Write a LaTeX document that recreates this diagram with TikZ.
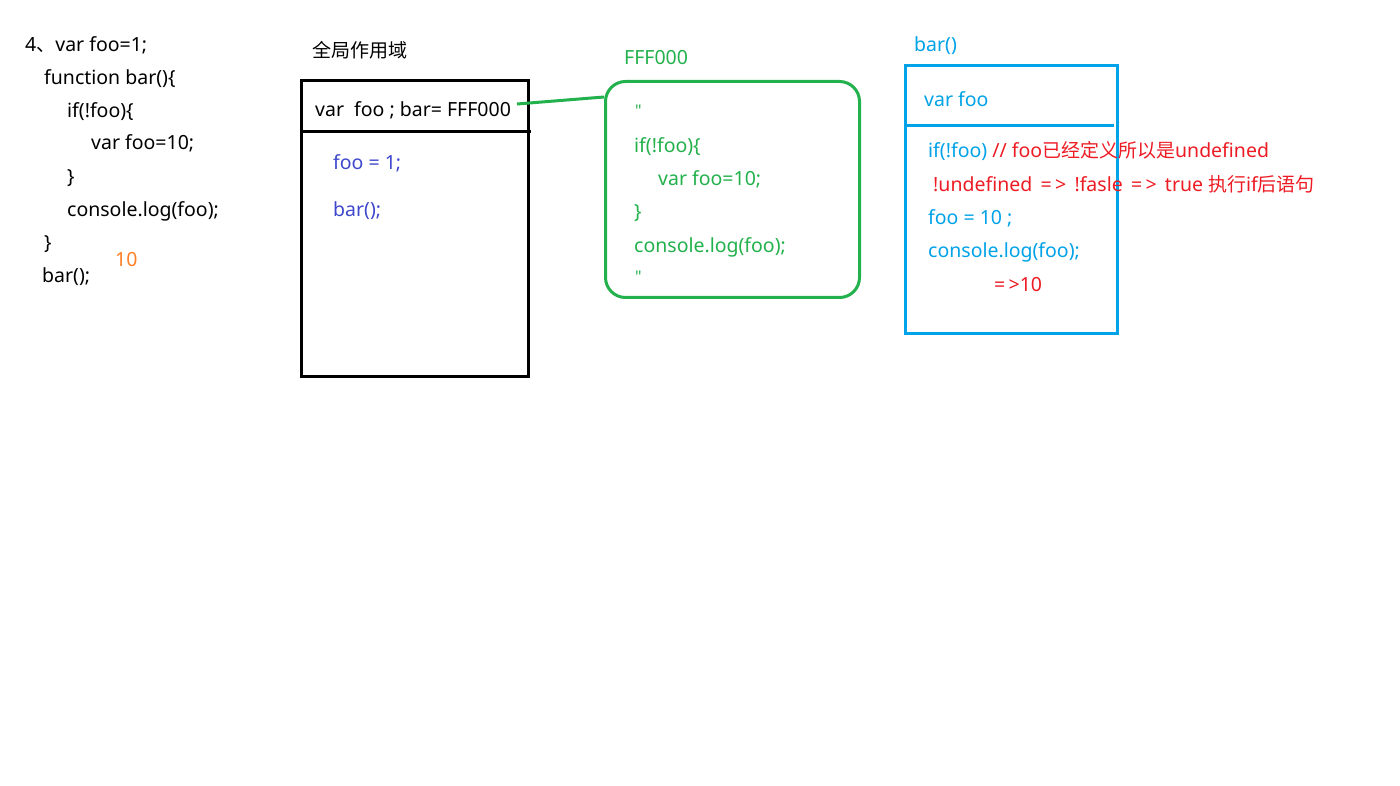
\documentclass[tikz,border=0pt]{standalone}
\usepackage{fontspec}
\setmainfont{Noto Sans}
\newfontfamily\cjk{Noto Sans CJK SC}
\newfontfamily\qfont{Noto Sans}[Ligatures=TeXOff]
\definecolor{pgreen}{RGB}{34,177,76}
\definecolor{pblue}{RGB}{0,162,232}
\definecolor{pred}{RGB}{237,28,36}
\definecolor{porange}{RGB}{255,127,39}
\definecolor{pviolet}{RGB}{63,72,204}
\newcommand{\zh}[1]{{\cjk\fontsize{19}{20}\selectfont #1}}
\newcommand{\dq}{{\qfont\bfseries\symbol{34}}}
\begin{document}
\begin{tikzpicture}[x=1pt,y=-1pt,
  txt/.style={anchor=base west,inner sep=0pt,font=\fontsize{19.5}{22}\selectfont},
  qmark/.style={anchor=base west,inner sep=0pt,font=\fontsize{16}{17}\selectfont},
  frame/.style={line width=3pt}]
\useasboundingbox (0,0) rectangle (1400,786);
\fill[white] (0,0) rectangle (1400,786);

% source listing
\node[txt] (l1) at (25,52) {4\zh{、}var foo=1;};
\node[txt] (l2) at (44,85) {function bar()\{};
\node[txt] (l3) at (67,118) {if(!foo)\{};
\node[txt] (l4) at (91,150) {var foo=10;};
\node[txt] (l5) at (67,184) {\}};
\node[txt] (l6) at (67,217) {console.log(foo);};
\node[txt] (l7) at (44,250) {\}};
\node[txt] (l8) at (42,283) {bar();};
\node[txt,text=porange] (out) at (115,267) {10};

% global scope
\node[txt] (gtitle) at (312,58) {\zh{全局作用域}};
\draw[frame] (301,81) rectangle (528,376);
\draw[frame] (301,132) -- (531,132);
\node[txt] (gvars) at (315,117) {var\ \ foo ; bar= FFF000};
\node[txt,text=pviolet] (g1) at (333,170) {foo = 1;};
\node[txt,text=pviolet] (g2) at (333,217) {bar();};

% function object FFF000
\node[txt,text=pgreen] (ftitle) at (624,65) {FFF000};
\node[frame,draw=pgreen,rounded corners=20pt,minimum width=254pt,minimum height=216pt,anchor=north west,inner sep=0pt] (fnbox) at (604,80) {};
\node[qmark,text=pgreen] (f0) at (635,117) {\dq};
\node[txt,text=pgreen] (f1) at (634,153) {if(!foo)\{};
\node[txt,text=pgreen] (f2) at (658,186) {var foo=10;};
\node[txt,text=pgreen] (f3) at (634,219) {\}};
\node[txt,text=pgreen] (f4) at (634,253) {console.log(foo);};
\node[qmark,text=pgreen] (f5) at (635,283) {\dq};
\coordinate (link) at (517,104);
\draw[pgreen,line width=3pt] (link) -- ([yshift=-17pt]fnbox.north west);

% bar() scope
\node[txt,text=pblue] (btitle) at (914,52) {bar()};
\draw[frame,draw=pblue] (905,66) rectangle (1117,333);
\draw[frame,draw=pblue] (905,126) -- (1114,126);
\node[txt,text=pblue] (bvar) at (924,107) {var foo};
\node[txt,text=pblue] (b1) at (928,158) {if(!foo) \textcolor{pred}{// foo\zh{已经定义所以是}undefined}};
\node[txt,text=pred] (b2) at (933,192) {!undefined\, =\,>\, !fasle\, =\,>\, true \zh{执行}if\zh{后语句}};
\node[txt,text=pblue] (b3) at (928,225) {foo = 10 ;};
\node[txt,text=pblue] (b4) at (928,258) {console.log(foo);};
\node[txt,text=pred] (b5) at (994,291) {=\,>10};
\end{tikzpicture}
\end{document}
